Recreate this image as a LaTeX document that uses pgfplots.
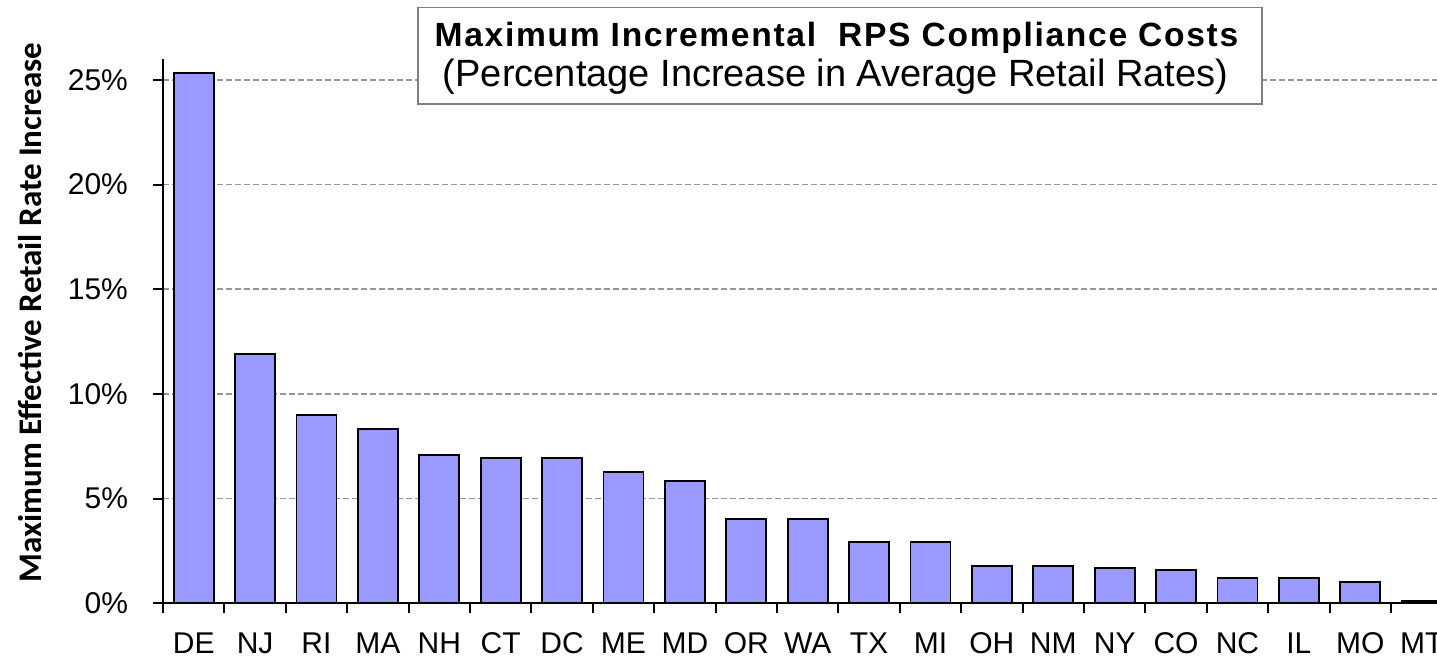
\documentclass[border=0pt]{standalone}
\usepackage{fontspec}
\setmainfont{Liberation Sans}
\newfontfamily\titleboldfont[LetterSpace=5]{Liberation Sans}
\newfontfamily\titlefont{Liberation Sans}
\newfontfamily\labelfont{Carlito}
\usepackage{pgfplots}
\pgfplotsset{compat=1.18}
\definecolor{barblue}{HTML}{9999FF}
\definecolor{gridgray}{HTML}{969696}
\definecolor{boxgray}{HTML}{808080}
\begin{document}
\begin{tikzpicture}
\begin{axis}[
  scale only axis,
  width=637pt, height=272.2pt,
  xmin=-0.5, xmax=20.25,
  ymin=0, ymax=26,
  axis lines*=left,
  axis line style={line width=1pt, black},
  ybar,
  bar width=0.65,
  xtick={0,...,20},
  xticklabels={DE,NJ,RI,MA,NH,CT,DC,ME,MD,OR,WA,TX,MI,OH,NM,NY,CO,NC,IL,MO,MT},
  major x tick style={draw=none},
  minor xtick={-0.5,0.5,...,20.5},
  minor tick length=5pt,
  major tick length=5pt,
  tick align=outside,
  tick style={line width=1pt, black},
  ytick={0,5,10,15,20,25},
  yticklabel={\pgfmathprintnumber{\tick}\%},
  /pgf/number format/assume math mode=true,
  ymajorgrids,
  grid style={gridgray, line width=0.8pt, dash pattern=on 3pt off 1.5pt},
  tick label style={font=\fontsize{15}{18}\selectfont},
  xticklabel style={yshift=-6pt},
  yticklabel style={xshift=-9pt},
  clip=true,
]
\addplot[fill=barblue, draw=black, line width=0.9pt] coordinates {
(0,25.31) (1,11.9) (2,8.98) (3,8.31) (4,7.07) (5,6.95) (6,6.95) (7,6.28) (8,5.83) (9,4.03) (10,4.03) (11,2.91) (12,2.91) (13,1.78) (14,1.78) (15,1.69) (16,1.58) (17,1.22) (18,1.22) (19,1.0) (20,0.1)
};
\end{axis}
% y label
\node[rotate=90, anchor=base, inner sep=0pt, font=\labelfont\bfseries\fontsize{16.5}{20}\selectfont]
  at ([shift={(-60.5pt,145.4pt)}]current axis.south west) {Maximum Effective Retail Rate Increase};
% title box
\node[draw=boxgray, fill=white, line width=0.8pt, minimum width=422pt, minimum height=48.3pt, inner sep=0pt]
  at ([shift={(338.5pt,273.8pt)}]current axis.south west) {};
\node[anchor=base, inner sep=0pt, font=\titleboldfont\bfseries\fontsize{16.8}{20}\selectfont]
  at ([shift={(336.75pt,278.3pt)}]current axis.south west) {Maximum Incremental\ \ RPS Compliance Costs};
\node[anchor=base, inner sep=0pt, font=\titlefont\fontsize{19}{22}\selectfont]
  at ([shift={(336.25pt,258.15pt)}]current axis.south west) {(Percentage Increase in Average Retail Rates)};
\pgfresetboundingbox
\path[use as bounding box] ([shift={(-81.5pt,-27.35pt)}]current axis.south west) rectangle ([shift={(0pt,301.65pt)}]current axis.south east);
\end{tikzpicture}
\end{document}
